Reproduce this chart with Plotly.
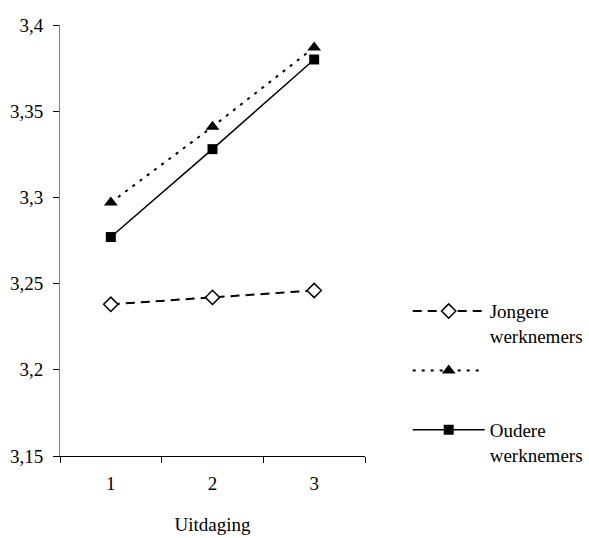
import plotly.graph_objects as go

categories = ["1", "2", "3"]
jongere = [3.238, 3.242, 3.246]
middel = [3.297, 3.341, 3.387]
oudere = [3.277, 3.328, 3.380]
names = ["Jongere<br>werknemers", " <br> ", "Oudere<br>werknemers"]
yticks = [3.15, 3.2, 3.25, 3.3, 3.35, 3.4]
yticktext = ["3,15", "3,2", "3,25", "3,3", "3,35", "3,4"]

FONT = "'Liberation Serif', 'DejaVu Serif', serif"

fig = go.Figure()
fig.add_trace(go.Scatter(
    x=categories, y=jongere, name=names[0], mode="lines+markers", legendgroup="a",
    line=dict(color="black", width=2, dash="9px,6px"),
    marker=dict(symbol="diamond", size=11, color="white", line=dict(color="black", width=1.5)),
))
fig.add_trace(go.Scatter(
    x=categories, y=middel, name=names[1], mode="lines+markers", legendgroup="b",
    line=dict(color="black", width=2, dash="3px,6px"),
    marker=dict(symbol="triangle-up", size=12, color="black"),
))
fig.add_trace(go.Scatter(
    x=categories, y=oudere, name=names[2], mode="lines+markers", legendgroup="c",
    line=dict(color="black", width=1.5),
    marker=dict(symbol="square", size=10, color="black"),
))

fig.update_layout(
    width=589, height=538,
    margin=dict(l=60, r=224, t=25, b=82, autoexpand=False),
    paper_bgcolor="white", plot_bgcolor="white",
    font=dict(family=FONT, size=19, color="black"),
    showlegend=True,
    legend=dict(x=1.14, y=0.38, xanchor="left", yanchor="top", valign="top",
                itemwidth=72, tracegroupgap=7, font=dict(family=FONT, size=19),
                bgcolor="rgba(0,0,0,0)"),
    xaxis=dict(type="category", range=[-0.5, 2.5], showline=True, linecolor="black", linewidth=1,
               ticks="outside", tickson="boundaries", ticklen=6, tickcolor="black",
               ticklabelstandoff=10,
               showgrid=False, zeroline=False,
               title=dict(text="Uitdaging", font=dict(family=FONT, size=19), standoff=24)),
    yaxis=dict(range=[3.15, 3.4], tickvals=yticks, ticktext=yticktext,
               showline=True, linecolor="#808080", linewidth=1,
               ticks="outside", ticklen=6, tickcolor="black", ticklabelstandoff=6,
               showgrid=False, zeroline=False),
)

fig.write_html("out.html")
